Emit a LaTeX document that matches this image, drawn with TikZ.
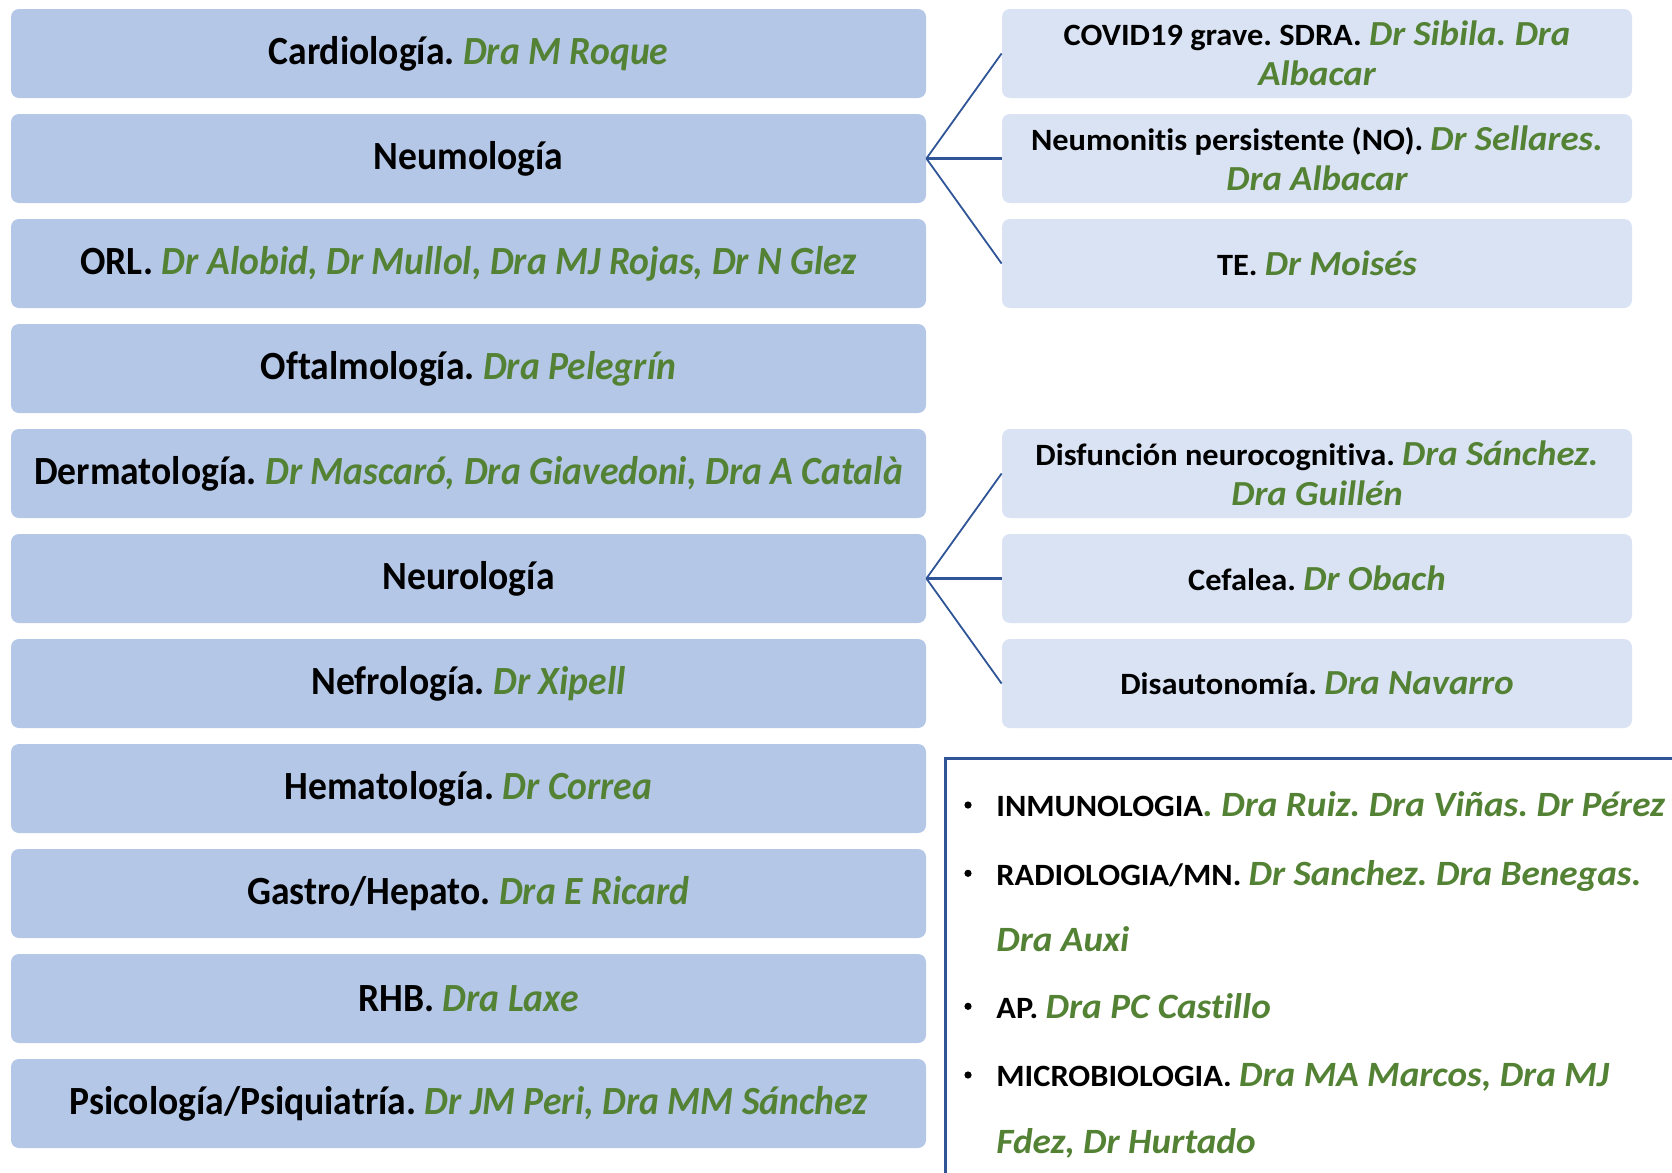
\documentclass[tikz,border=0pt]{standalone}
\usepackage{fontspec}
\setmainfont{Carlito}[Ligatures=NoCommon]
\newfontfamily\leftfam{Carlito}[FakeStretch=0.94, Ligatures=NoCommon]
\newfontfamily\rightfam{Carlito}[FakeStretch=1.045, Ligatures=NoCommon]
\definecolor{leftfill}{HTML}{B4C7E7}
\definecolor{rightfill}{HTML}{DAE3F3}
\definecolor{drgreen}{HTML}{548235}
\definecolor{linkblue}{HTML}{2F5597}
\newcommand\gl[1]{{\color{drgreen}\itshape #1}}
\newcommand\gs[1]{{\color{drgreen}\itshape\fontsize{17.6}{20}\selectfont #1}}
\newcommand\gb[1]{{\color{drgreen}\itshape\fontsize{17.8}{20}\selectfont #1}}
\frenchspacing
\tikzset{
  leftbox/.style={rectangle, rounded corners=4pt, fill=leftfill, draw=none,
    minimum width=457.5pt, minimum height=44.5pt, inner sep=0pt,
    font=\leftfam\bfseries\frenchspacing\fontsize{20}{24}\selectfont, align=center},
  rightbox/.style={rectangle, rounded corners=4pt, fill=rightfill, draw=none,
    minimum width=315pt, minimum height=44.5pt, inner sep=0pt,
    font=\rightfam\bfseries\frenchspacing\fontsize{15.5}{20}\selectfont, align=center},
  link/.style={draw=linkblue, line width=0.9pt},
  linkmid/.style={draw=linkblue, line width=1.4pt},
  bul/.style={anchor=base west, inner sep=0pt, font=\rightfam\bfseries\frenchspacing\fontsize{15.5}{20}\selectfont},
  bdot/.style={circle, fill=black, draw=none, inner sep=0pt, minimum size=3.6pt},
  frame/.style={draw=linkblue, line width=1.6pt, fill=none, rectangle, inner sep=0pt,
    minimum width=400pt, minimum height=300pt, anchor=north west}
}
\begin{document}
\begin{tikzpicture}[x=0.5pt,y=-0.5pt]
\useasboundingbox (0,0) rectangle (1672,1173);
\clip (0,0) rectangle (1672,1173);
% left column
\node[leftbox] (card) at (468.5,53.5) {Cardiología. \gl{Dra M Roque}};
\node[leftbox] (neumo) at (468.5,158.5) {Neumología};
\node[leftbox] (orl) at (468.5,263.5) {ORL. \gl{Dr Alobid, Dr Mullol, Dra MJ Rojas, Dr N Glez}};
\node[leftbox] (oftal) at (468.5,368.5) {Oftalmología. \gl{Dra Pelegrín}};
\node[leftbox] (derma) at (468.5,473.5) {Dermatología. \gl{Dr Mascaró, Dra Giavedoni, Dra A Català}};
\node[leftbox] (neuro) at (468.5,578.5) {Neurología};
\node[leftbox] (nefro) at (468.5,683.5) {Nefrología. \gl{Dr Xipell}};
\node[leftbox] (hemato) at (468.5,788.5) {Hematología. \gl{Dr Correa}};
\node[leftbox] (gastro) at (468.5,893.5) {Gastro/Hepato. \gl{Dra E Ricard}};
\node[leftbox] (rhb) at (468.5,998.5) {RHB. \gl{Dra Laxe}};
\node[leftbox] (psico) at (468.5,1103.5) {Psicología/Psiquiatría. \gl{Dr JM Peri, Dra MM Sánchez}};
% right column
\node[rightbox] (covid) at (1317,53.5) {COVID19 grave. SDRA. \gs{Dr Sibila. Dra}\\\gs{Albacar}};
\node[rightbox] (neumon) at (1317,158.5) {Neumonitis persistente (NO). \gs{Dr Sellares.}\\\gs{Dra Albacar}};
\node[rightbox] (te) at (1317,263.5) {TE. \gs{Dr Moisés}};
\node[rightbox] (disf) at (1317,473.5) {Disfunción neurocognitiva. \gs{Dra Sánchez.}\\\gs{Dra Guillén}};
\node[rightbox] (cefa) at (1317,578.5) {Cefalea. \gs{Dr Obach}};
\node[rightbox] (disau) at (1317,683.5) {Disautonomía. \gs{Dra Navarro}};
% connectors
\draw[link] (neumo.east) -- (covid.west);
\draw[linkmid] (neumo.east) -- (neumon.west);
\draw[link] (neumo.east) -- (te.west);
\draw[link] (neuro.east) -- (disf.west);
\draw[linkmid] (neuro.east) -- (cefa.west);
\draw[link] (neuro.east) -- (disau.west);
% framed list
\node[frame] (frm) at (944,757) {};
\node[bdot] (b1) at (968,805) {};
\node[bul] (t1) at (996,816.7) {INMUNOLOGIA\gb{. Dra Ruiz. Dra Viñas. Dr Pérez}};
\node[bdot] (b2) at (968,873.3) {};
\node[bul] (t2) at (996,885) {RADIOLOGIA/MN. \gb{Dr Sanchez. Dra Benegas.}};
\node[bul] (t2b) at (996,951.7) {\gb{Dra Auxi}};
\node[bdot] (b3) at (968,1006.3) {};
\node[bul] (t3) at (996,1018) {AP. \gb{Dra PC Castillo}};
\node[bdot] (b4) at (968,1075) {};
\node[bul] (t4) at (996,1086.7) {MICROBIOLOGIA. \gb{Dra MA Marcos, Dra MJ}};
\node[bul] (t4b) at (996,1153) {\gb{Fdez, Dr Hurtado}};
\end{tikzpicture}
\end{document}
